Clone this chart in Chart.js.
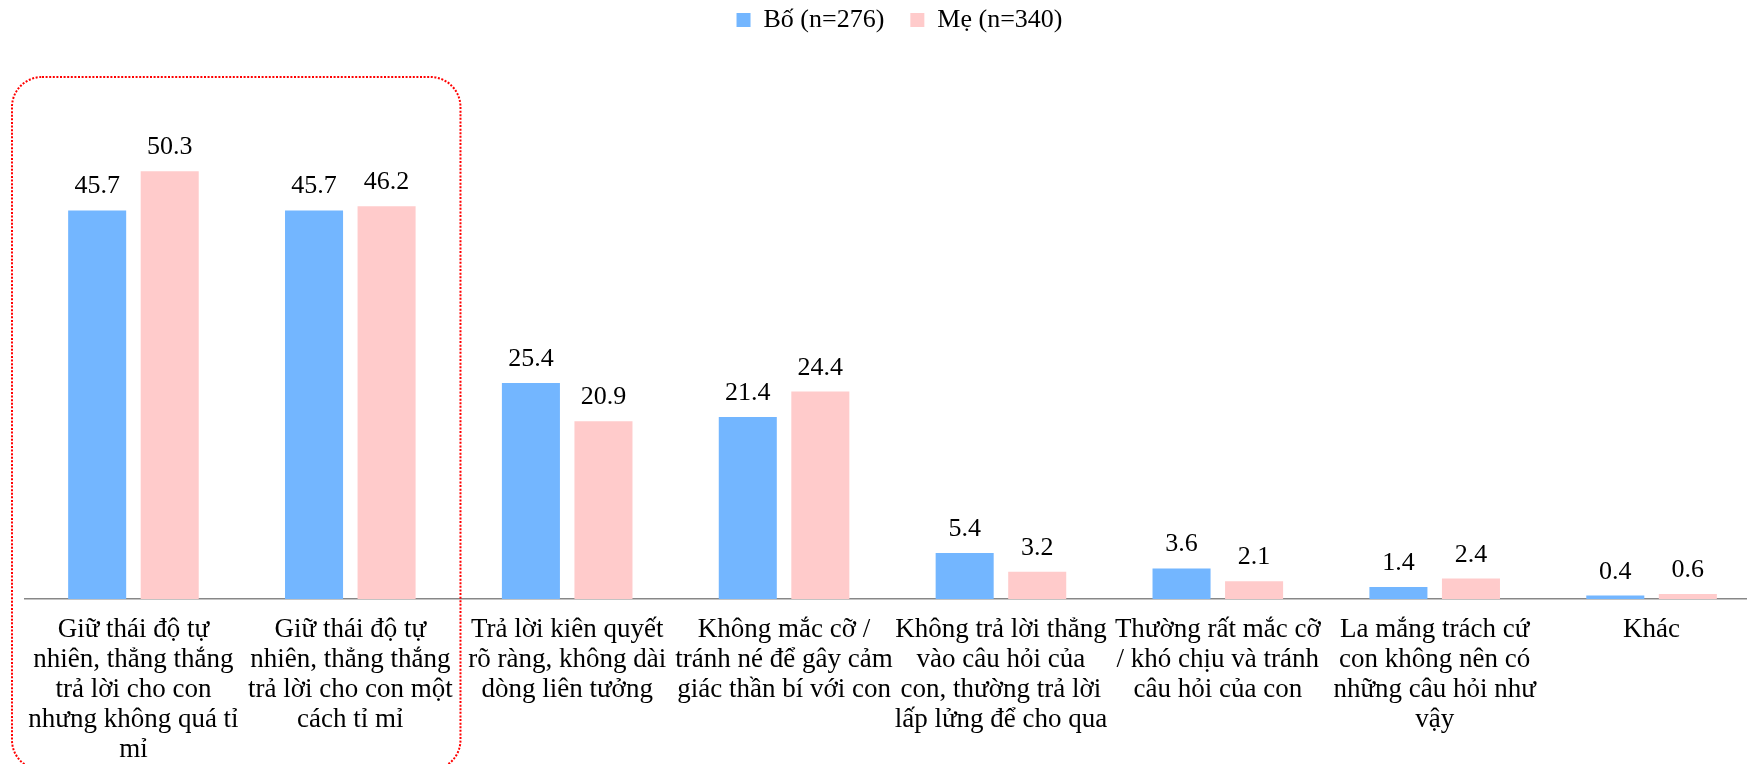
<!DOCTYPE html>
<html lang="vi">
<head>
<meta charset="UTF-8">
<title>Bố / Mẹ - cách trả lời câu hỏi của con</title>
<script src="https://cdn.jsdelivr.net/npm/chart.js"></script>
<style>
  html, body { margin: 0; padding: 0; overflow: hidden; background: #fff; }
  #wrap { width: 1747px; height: 764px; overflow: hidden; }
</style>
</head>
<body>
<div id="wrap"><canvas id="chart" width="1762" height="781"></canvas></div>
<script>
// categories, already wrapped the way the original shows them
const categories = [
  ["Giữ thái độ tự", "nhiên, thẳng thắng", "trả lời cho con", "nhưng không quá tỉ", "mỉ"],
  ["Giữ thái độ tự", "nhiên, thẳng thắng", "trả lời cho con một", "cách tỉ mỉ"],
  ["Trả lời kiên quyết", "rõ ràng, không dài", "dòng liên tưởng"],
  ["Không mắc cỡ /", "tránh né để gây cảm", "giác thần bí với con"],
  ["Không trả lời thẳng", "vào câu hỏi của", "con, thường trả lời", "lấp lửng để cho qua"],
  ["Thường rất mắc cỡ", "/ khó chịu và tránh", "câu hỏi của con"],
  ["La mắng trách cứ", "con không nên có", "những câu hỏi như", "vậy"],
  ["Khác"]
];
const seriesNames = ["Bố (n=276)", "Mẹ (n=340)"];
const boValues = [45.7, 45.7, 25.4, 21.4, 5.4, 3.6, 1.4, 0.4];
const meValues = [50.3, 46.2, 20.9, 24.4, 3.2, 2.1, 2.4, 0.6];

const BLUE = "#73B6FF";
const PINK = "#FFCBCB";

Chart.defaults.font.family = "'Liberation Serif', 'Times New Roman', serif";
Chart.defaults.color = "#000";

// numbers above each bar
const valueLabels = {
  id: "valueLabels",
  afterDatasetsDraw(chart) {
    const ctx = chart.ctx;
    ctx.save();
    ctx.font = "26px 'Liberation Serif', serif";
    ctx.fillStyle = "#000";
    ctx.textAlign = "center";
    ctx.textBaseline = "alphabetic";
    chart.data.datasets.forEach((ds, i) => {
      chart.getDatasetMeta(i).data.forEach((bar, j) => {
        ctx.fillText(ds.data[j].toFixed(1), bar.x, bar.y - 17);
      });
    });
    ctx.restore();
  }
};

// red dotted rounded box around the first two groups
const highlightBox = {
  id: "highlightBox",
  afterDraw(chart) {
    const x = chart.scales.x;
    const c0 = x.getPixelForValue(0);
    const c1 = x.getPixelForValue(1);
    const w = c1 - c0;
    const left = c0 - 0.56 * w;
    const right = c1 + 0.508 * w;
    const top = chart.chartArea.top + 15;
    const bottom = chart.chartArea.bottom + 171;
    const ctx = chart.ctx;
    ctx.save();
    ctx.strokeStyle = "#FF0000";
    ctx.lineWidth = 2;
    ctx.setLineDash([2, 1.6]);
    ctx.beginPath();
    ctx.roundRect(left, top, right - left, bottom - top, 30);
    ctx.stroke();
    ctx.restore();
  }
};

// nudge the legend to where the original has it
const legendNudge = {
  id: "legendNudge",
  afterLayout(chart) {
    const l = chart.legend;
    l.left += 7; l.right += 7;
    l.top -= 19; l.bottom -= 19;
  }
};

new Chart(document.getElementById("chart"), {
  type: "bar",
  data: {
    labels: categories,
    datasets: [
      { label: seriesNames[0], data: boValues, backgroundColor: BLUE },
      { label: seriesNames[1], data: meValues, backgroundColor: PINK }
    ]
  },
  options: {
    responsive: false,
    animation: false,
    devicePixelRatio: 1,
    categoryPercentage: 0.669,
    barPercentage: 0.8,
    layout: { padding: { left: 25, right: 2, top: 0, bottom: 0 } },
    plugins: {
      legend: {
        position: "top",
        labels: {
          boxWidth: 14,
          boxHeight: 14,
          padding: 26,
          font: { size: 26 },
          color: "#000"
        }
      },
      tooltip: { enabled: false }
    },
    scales: {
      x: {
        offset: true,
        grid: { display: false, drawTicks: false },
        border: { display: true, color: "#878787", width: 1.5 },
        ticks: {
          color: "#000",
          font: { size: 27, lineHeight: "30px" },
          padding: 16,
          maxRotation: 0,
          minRotation: 0,
          autoSkip: false
        }
      },
      y: { display: false, min: 0, max: 63.15 }
    }
  },
  plugins: [valueLabels, highlightBox, legendNudge]
});
</script>
</body>
</html>
